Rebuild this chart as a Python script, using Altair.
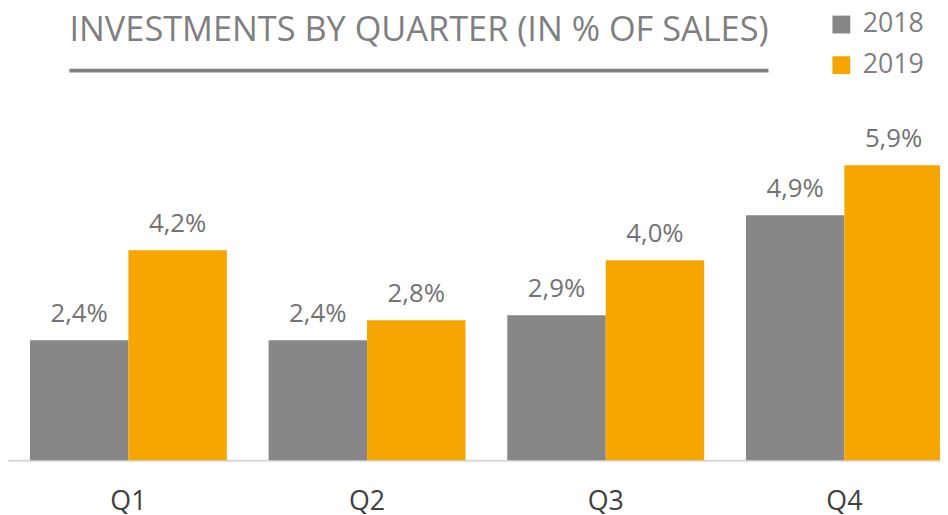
import altair as alt
import pandas as pd

quarters = ["Q1", "Q2", "Q3", "Q4"]
years = ["2018", "2019"]
values_2018 = [2.4, 2.4, 2.9, 4.9]
values_2019 = [4.2, 2.8, 4.0, 5.9]
title_text = "INVESTMENTS BY QUARTER (IN % OF SALES)"
colors = ["#878787", "#F6A600"]

rows = []
for q, a, b in zip(quarters, values_2018, values_2019):
    rows.append({"quarter": q, "year": years[0], "value": a})
    rows.append({"quarter": q, "year": years[1], "value": b})
df = pd.DataFrame(rows)
df["label"] = df["value"].map(lambda v: f"{v:.1f}%".replace(".", ","))

x_enc = alt.X(
    "quarter:N",
    sort=quarters,
    scale=alt.Scale(range=[0, 965], paddingInner=0.175, paddingOuter=0.092),
    axis=alt.Axis(
        title=None,
        labelAngle=0,
        labelFont="Open Sans",
        labelFontSize=27,
        labelColor="#404040",
        labelPadding=29,
        ticks=False,
        domainColor="#d9d9d9",
        domainWidth=2,
        grid=False,
    ),
)
xo_enc = alt.XOffset("year:N", sort=years, scale=alt.Scale(paddingInner=0, paddingOuter=0))
y_enc = alt.Y("value:Q", scale=alt.Scale(domain=[0, 9.0], nice=False, zero=True), axis=None)

base = alt.Chart(df)

bars = base.mark_bar().encode(
    x=x_enc,
    xOffset=xo_enc,
    y=y_enc,
    color=alt.Color(
        "year:N",
        scale=alt.Scale(domain=years, range=colors),
        legend=alt.Legend(
            orient="none",
            legendX=827,
            legendY=1,
            title=None,
            symbolType="square",
            symbolSize=324,
            symbolStrokeWidth=0,
            labelFont="Open Sans",
            labelFontSize=27,
            labelColor="#7f7f7f",
            labelOffset=8,
            rowPadding=13,
        ),
    ),
)

labels = base.mark_text(
    font="Open Sans", fontSize=26, color="#737373", baseline="alphabetic", dy=-18
).encode(x=x_enc, xOffset=xo_enc, y=y_enc, text="label:N")

title_df = pd.DataFrame({"t": [title_text]})
title = alt.Chart(title_df).mark_text(
    font="Liberation Sans Narrow, Open Sans",
    fontSize=34.6,
    color="#7f7f7f",
    align="left",
    baseline="alphabetic",
).encode(x=alt.value(62), y=alt.value(31), text="t:N")

underline = alt.Chart(title_df).mark_rule(color="#7f7f7f", strokeWidth=4).encode(
    x=alt.value(62), x2=alt.value(767), y=alt.value(61)
)

chart = (
    alt.layer(bars, labels, title, underline)
    .properties(
        width=940,
        height=454,
        autosize=alt.AutoSizeParams(type="none"),
        padding={"left": 0, "top": 0, "right": 0, "bottom": 52},
    )
    .configure_view(stroke=None)
)

chart.save("out.html", embed_options={"renderer": "svg", "actions": False})
